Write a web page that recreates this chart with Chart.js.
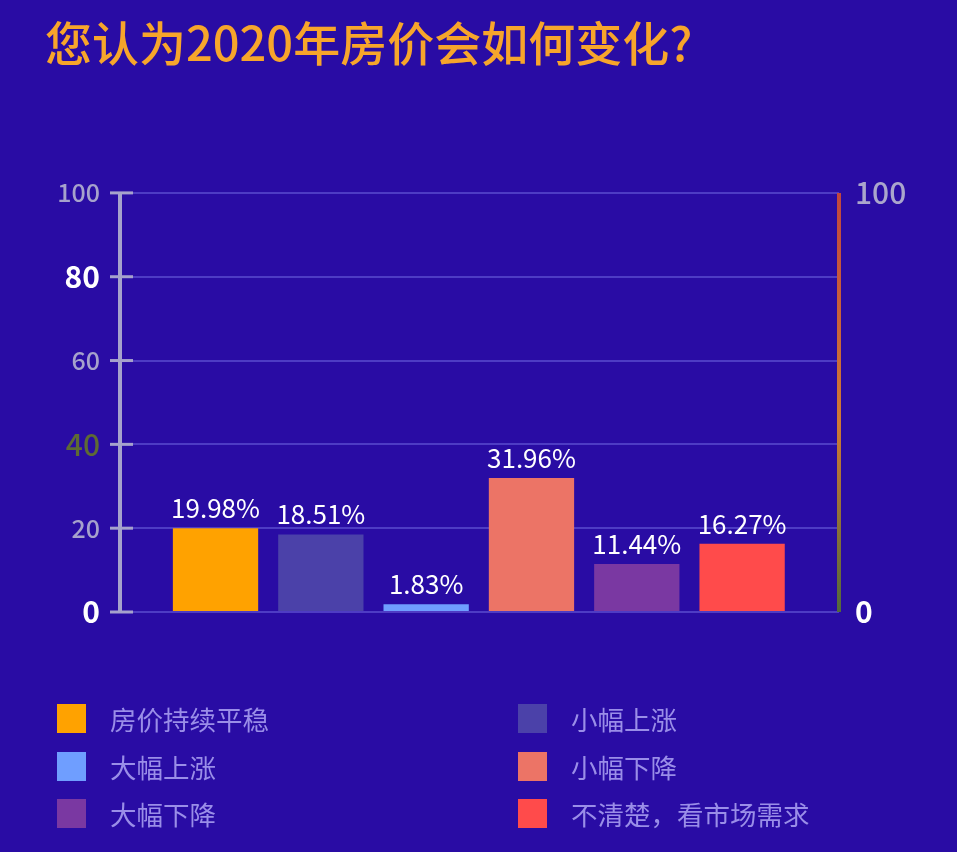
<!DOCTYPE html>
<html><head><meta charset="utf-8">
<script src="https://cdn.jsdelivr.net/npm/chart.js@4.4.1/dist/chart.umd.min.js"></script>
<style>
html,body{margin:0;padding:0;background:#290ca4;width:957px;height:852px;overflow:hidden;}
#wrap{position:relative;width:957px;height:852px;}
canvas{position:absolute;left:0;top:0;}
.lg{position:absolute;font-family:"Noto Sans CJK SC";font-size:26.5px;color:#9a8ee8;display:flex;align-items:center;height:29px;white-space:nowrap;}
.lg .sw{display:inline-block;width:29px;height:29px;margin-right:24px;flex:none;}
</style></head><body>
<div id="wrap"><canvas id="c" width="957" height="852"></canvas><div id="legend"></div></div>
<script>
const categories = ['房价持续平稳','小幅上涨','大幅上涨','小幅下降','大幅下降','不清楚，看市场需求'];
const values = [19.98, 18.51, 1.83, 31.96, 11.44, 16.27];
const valueLabels = ['19.98%','18.51%','1.83%','31.96%','11.44%','16.27%'];
const colors = ['#ffa200','#4b41a9','#6f9eff','#ec7466','#7a38a2','#ff4b4b'];
const leftTicks = [0, 20, 40, 60, 80, 100];
const rightTicks = [0, 100];
const titleText = '您认为2020年房价会如何变化?';

const FONT = '"Noto Sans CJK SC", "Noto Sans", sans-serif';
const leftTickStyle = {
  0:   {color:'#ffffff', size:30, weight:'700'},
  20:  {color:'#a6a2cc', size:25, weight:'500'},
  40:  {color:'#5e6a34', size:30, weight:'500'},
  60:  {color:'#a6a2cc', size:25, weight:'500'},
  80:  {color:'#ffffff', size:30, weight:'700'},
  100: {color:'#a6a2cc', size:25, weight:'500'}
};
const rightTickStyle = {
  0:   {color:'#ffffff', size:30, weight:'700'},
  100: {color:'#aaa6cc', size:30, weight:'500'}
};
function styleOf(map, c, def) {
  return (c && c.tick && map[c.tick.value]) || def;
}

// legend (HTML, row-major in two columns)
const legendEl = document.getElementById('legend');
const colX = [57, 518], rowY = [703.5, 751.5, 798.5];
categories.forEach((c, i) => {
  const d = document.createElement('div');
  d.className = 'lg';
  d.style.left = colX[i % 2] + 'px';
  d.style.top = rowY[Math.floor(i / 2)] + 'px';
  d.innerHTML = '<span class="sw" style="background:' + colors[i] + '"></span><span>' + c + '</span>';
  legendEl.appendChild(d);
});

const decor = {
  id: 'decor',
  beforeDatasetsDraw(chart) {
    const ctx = chart.ctx, y = chart.scales.y, a = chart.chartArea;
    ctx.save();
    ctx.strokeStyle = '#a6a2cc';
    ctx.lineWidth = 4;
    ctx.beginPath();
    ctx.moveTo(a.left, y.getPixelForValue(100));
    ctx.lineTo(a.left, y.getPixelForValue(0));
    ctx.stroke();
    ctx.lineWidth = 3;
    leftTicks.forEach(t => {
      const py = y.getPixelForValue(t);
      ctx.beginPath();
      ctx.moveTo(a.left - 10, py);
      ctx.lineTo(a.left + 13, py);
      ctx.stroke();
    });
    const g = ctx.createLinearGradient(0, a.top, 0, a.bottom);
    g.addColorStop(0, '#c0473f');
    g.addColorStop(0.55, '#cf7a34');
    g.addColorStop(1, '#52683c');
    ctx.strokeStyle = g;
    ctx.lineWidth = 4;
    ctx.beginPath();
    ctx.moveTo(a.right, a.top);
    ctx.lineTo(a.right, a.bottom);
    ctx.stroke();
    ctx.restore();
  },
  afterDatasetsDraw(chart) {
    const ctx = chart.ctx;
    const meta = chart.getDatasetMeta(0);
    ctx.save();
    ctx.fillStyle = '#ffffff';
    ctx.font = '400 26px ' + FONT;
    ctx.textAlign = 'center';
    ctx.textBaseline = 'bottom';
    meta.data.forEach((bar, i) => {
      ctx.fillText(valueLabels[i], bar.x, bar.y - 7);
    });
    ctx.restore();
  }
};

new Chart(document.getElementById('c'), {
  type: 'bar',
  data: {
    datasets: [{
      data: values.map((v, i) => ({x: i, y: v})),
      backgroundColor: colors,
      borderWidth: 0,
      barPercentage: 0.81,
      categoryPercentage: 1,
      yAxisID: 'y'
    }]
  },
  options: {
    responsive: false,
    animation: false,
    events: [],
    layout: {padding: {left: 45, right: 0, top: 0, bottom: 240}},
    plugins: {
      legend: {display: false},
      tooltip: {enabled: false},
      title: {
        display: true,
        text: titleText,
        align: 'start',
        color: '#f7a52b',
        font: {family: FONT, size: 47, weight: '500'},
        padding: {top: 14.5, bottom: 122}
      }
    },
    scales: {
      x: {
        type: 'linear',
        display: false,
        offset: false,
        grid: {offset: false},
        min: -0.907,
        max: 5.92,
        afterBuildTicks(s) { s.ticks = categories.map((c, i) => ({value: i})); }
      },
      y: {
        position: 'left',
        min: 0, max: 100,
        afterBuildTicks(s) { s.ticks = leftTicks.map(v => ({value: v})); },
        afterFit(s) { s.width = 75; },
        border: {display: false},
        grid: {color: '#4e3cc4', lineWidth: 2, drawTicks: false},
        ticks: {
          padding: 20,
          color: c => styleOf(leftTickStyle, c, {color: '#a6a2cc'}).color,
          font: c => {
            const st = styleOf(leftTickStyle, c, {size: 25, weight: '500'});
            return {family: FONT, size: st.size, weight: st.weight};
          }
        }
      },
      y2: {
        position: 'right',
        min: 0, max: 100,
        afterBuildTicks(s) { s.ticks = rightTicks.map(v => ({value: v})); },
        afterFit(s) { s.width = 118; },
        border: {display: false},
        grid: {drawOnChartArea: false, drawTicks: false},
        ticks: {
          padding: 16,
          color: c => styleOf(rightTickStyle, c, {color: '#aaa6cc'}).color,
          font: c => {
            const st = styleOf(rightTickStyle, c, {size: 30, weight: '500'});
            return {family: FONT, size: st.size, weight: st.weight};
          }
        }
      }
    }
  },
  plugins: [decor]
});
</script>
</body></html>
